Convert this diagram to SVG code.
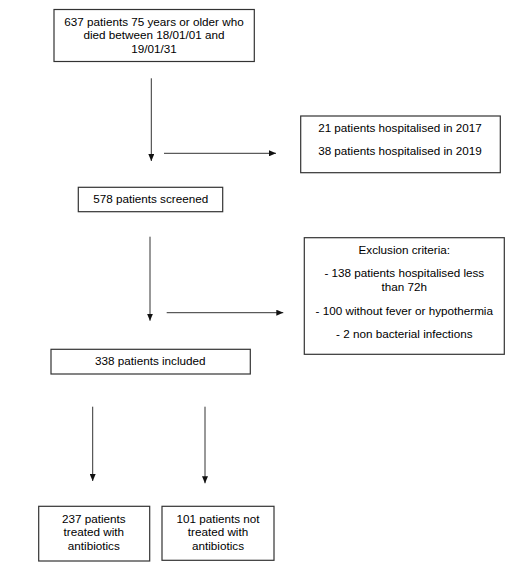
<svg xmlns="http://www.w3.org/2000/svg" width="531" height="569" viewBox="0 0 531 569">
<style>
.box{fill:#fff;stroke:#333;stroke-width:1.2}
.t{font-family:"Liberation Sans",Arial,sans-serif;font-size:11.7px;fill:#000;text-anchor:middle}
.c{stroke:#333;stroke-width:1;fill:none}
</style>
<defs>
<marker id="ah" markerWidth="7" markerHeight="6" refX="7" refY="3" orient="auto" markerUnits="userSpaceOnUse">
<path d="M0,0 L7,3 L0,6 Z" fill="#111"/>
</marker>
</defs>
<rect width="531" height="569" fill="#fff"/>
<g id="connectors">
<line class="c" x1="151.3" y1="78.3" x2="151.3" y2="161" marker-end="url(#ah)"/>
<line class="c" x1="164" y1="153.3" x2="276" y2="153.3" marker-end="url(#ah)"/>
<line class="c" x1="150" y1="236.7" x2="150" y2="320.7" marker-end="url(#ah)"/>
<line class="c" x1="166.7" y1="312.7" x2="283.3" y2="312.7" marker-end="url(#ah)"/>
<line class="c" x1="92.7" y1="406.7" x2="92.7" y2="481" marker-end="url(#ah)"/>
<line class="c" x1="205" y1="406.7" x2="205" y2="483.3" marker-end="url(#ah)"/>
</g>
<g id="n1">
<rect class="box" x="54" y="9.5" width="200.3" height="52"/>
<text class="t" x="154" y="25.8">637 patients 75 years or older who</text>
<text class="t" x="154" y="38.8">died between 18/01/01 and</text>
<text class="t" x="154" y="53">19/01/31</text>
</g>
<g id="n2">
<rect class="box" x="300.7" y="116" width="199.6" height="56.7"/>
<text class="t" x="400" y="131.8">21 patients hospitalised in 2017</text>
<text class="t" x="400" y="155.2">38 patients hospitalised in 2019</text>
</g>
<g id="n3">
<rect class="box" x="78.3" y="187.3" width="144.4" height="24.4"/>
<text class="t" x="150.7" y="203.2">578 patients screened</text>
</g>
<g id="n4">
<rect class="box" x="304.3" y="237.7" width="200" height="116.6"/>
<text class="t" x="404.3" y="254.2">Exclusion criteria:</text>
<text class="t" x="404.3" y="277.2">- 138 patients hospitalised less</text>
<text class="t" x="404.3" y="291.2">than 72h</text>
<text class="t" x="404.3" y="315.2">- 100 without fever or hypothermia</text>
<text class="t" x="404.3" y="338.2">- 2 non bacterial infections</text>
</g>
<g id="n5">
<rect class="box" x="51" y="349.3" width="199.3" height="24.7"/>
<text class="t" x="150.3" y="365.2">338 patients included</text>
</g>
<g id="n6">
<rect class="box" x="38.7" y="506.3" width="111" height="54.7"/>
<text class="t" x="93.8" y="522.9">237 patients</text>
<text class="t" x="93.8" y="536.2">treated with</text>
<text class="t" x="93.8" y="549.9">antibiotics</text>
</g>
<g id="n7">
<rect class="box" x="162" y="506.3" width="112" height="54"/>
<text class="t" x="218" y="522.9">101 patients not</text>
<text class="t" x="218" y="536.2">treated with</text>
<text class="t" x="218" y="549.9">antibiotics</text>
</g>
</svg>
